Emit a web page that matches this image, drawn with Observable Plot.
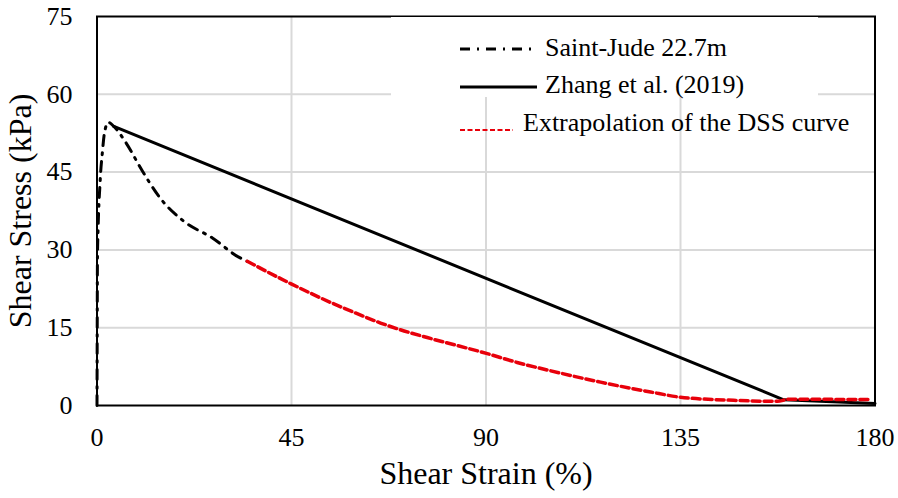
<!DOCTYPE html>
<html>
<head>
<meta charset="utf-8">
<script src="https://cdn.jsdelivr.net/npm/d3@7"></script>
<script src="https://cdn.jsdelivr.net/npm/@observablehq/plot@0.6"></script>
<style>
  html, body { margin: 0; padding: 0; background: #fff; }
  #wrap { position: relative; width: 898px; height: 498px; font-family: 'Liberation Serif', 'DejaVu Serif', serif; }
  #legend { position: absolute; left: 391px; top: 17px; width: 427px; height: 80px; background: #fff; }
  .item { position: absolute; font-family: 'Liberation Serif', 'DejaVu Serif', serif; font-size: 26px; color: #000; white-space: nowrap; line-height: 1; }
  svg text { font-family: 'Liberation Serif', 'DejaVu Serif', serif; }
</style>
</head>
<body>
<div id="wrap"></div>
<script>
// ---- data ----
const saintJudeX = [0, 0.05, 0.1, 0.25, 0.45, 0.65, 0.85, 1.2, 1.7, 2.6, 3.9, 6.75, 10.5, 14.7, 20.1, 26.7, 32.8, 34.75];
const saintJudeY = [0, 15, 28, 34, 39, 42, 45, 48.4, 52.4, 54.6, 53.8, 50.6, 45.2, 39.9, 35.5, 32.3, 28.6, 27.8];

const zhangX = [3.9, 158.9, 180];
const zhangY = [53.8, 1.1, 0.4];

const extrapX = [34.75, 44.8, 55.6, 60.2, 65.6, 70.2, 76.4, 90.3, 97.2, 104.9, 116.5, 128.1, 135.0, 147.3, 157.4, 160, 179];
const extrapY = [27.8, 23.5, 19.3, 17.7, 15.9, 14.6, 13.1, 10.0, 8.3, 6.7, 4.5, 2.6, 1.6, 1.0, 0.8, 1.2, 1.15];

const xTicks = [0, 45, 90, 135, 180];
const yTicks = [0, 15, 30, 45, 60, 75];

const seriesNames = ["Saint-Jude 22.7m", "Zhang et al. (2019)", "Extrapolation of the DSS curve"];
const xLabel = "Shear Strain (%)";
const yLabel = "Shear Stress (kPa)";

const toRows = (xs, ys) => xs.map((x, i) => ({x, y: ys[i]}));
const sj = toRows(saintJudeX, saintJudeY);
const zh = toRows(zhangX, zhangY);
const ex = toRows(extrapX, extrapY);

const FONT = "'Liberation Serif', 'DejaVu Serif', serif";
const RED = "#e8000b";
const DASHDOT = "10,7,2,7";

const chart = Plot.plot({
  width: 898,
  height: 498,
  marginLeft: 96.5,
  marginRight: 23.5,
  marginTop: 16,
  marginBottom: 93,
  style: {fontFamily: FONT, fontSize: "26px", background: "#fff", color: "#000"},
  x: {domain: [0, 180]},
  y: {domain: [0, 75]},
  marks: [
    Plot.gridX(xTicks.slice(1, -1), {stroke: "#d9d9d9", strokeOpacity: 1, strokeWidth: 2}),
    Plot.gridY(yTicks.slice(1, -1), {stroke: "#d9d9d9", strokeOpacity: 1, strokeWidth: 2}),
    Plot.axisX(xTicks, {tickSize: 0, tickPadding: 22, label: null, fontSize: 26, fontFamily: FONT, fontVariant: "normal"}),
    Plot.axisY(yTicks, {tickSize: 0, tickPadding: 24.5, label: null, fontSize: 26, fontFamily: FONT, fontVariant: "normal"}),
    Plot.text([xLabel], {frameAnchor: "bottom", dy: 68, fontSize: 32, fontFamily: FONT, textAnchor: "middle", lineAnchor: "middle", text: d => d}),
    Plot.text([yLabel], {frameAnchor: "left", dx: -76, rotate: -90, fontSize: 32, fontFamily: FONT, textAnchor: "middle", lineAnchor: "middle", text: d => d}),
    Plot.line(zh, {x: "x", y: "y", stroke: "#000", strokeWidth: 3}),
    Plot.line(sj, {x: "x", y: "y", stroke: "#000", strokeWidth: 3, strokeDasharray: DASHDOT, curve: "monotone-x"}),
    Plot.line(ex, {x: "x", y: "y", stroke: RED, strokeWidth: 3.5, strokeDasharray: "8,4", curve: "monotone-x"}),
    Plot.frame({stroke: "#000", strokeWidth: 2})
  ]
});

const wrap = document.getElementById("wrap");
wrap.appendChild(chart);

// ---- legend (overlay inside the plot area) ----
const legend = document.createElement("div");
legend.id = "legend";
wrap.appendChild(legend);

const items = [
  {name: seriesNames[0], lx: 460, lw: 77, ly: 49, stroke: "#000", sw: 3, dash: DASHDOT, tx: 545, base: 58},
  {name: seriesNames[1], lx: 460, lw: 77, ly: 87, stroke: "#000", sw: 3, dash: null, tx: 545, base: 95},
  {name: seriesNames[2], lx: 460, lw: 53, ly: 130, stroke: RED, sw: 2, dash: "5,2.5", tx: 523, base: 133}
];
for (const it of items) {
  const s = document.createElementNS("http://www.w3.org/2000/svg", "svg");
  s.setAttribute("width", it.lw);
  s.setAttribute("height", 8);
  s.style.position = "absolute";
  s.style.left = it.lx + "px";
  s.style.top = (it.ly - 4) + "px";
  const l = document.createElementNS("http://www.w3.org/2000/svg", "line");
  l.setAttribute("x1", 0); l.setAttribute("x2", it.lw);
  l.setAttribute("y1", 4); l.setAttribute("y2", 4);
  l.setAttribute("stroke", it.stroke);
  l.setAttribute("stroke-width", it.sw);
  if (it.dash) l.setAttribute("stroke-dasharray", it.dash);
  s.appendChild(l);
  wrap.appendChild(s);
  const t = document.createElement("div");
  t.className = "item";
  t.textContent = it.name;
  t.style.left = it.tx + "px";
  t.style.top = (it.base - 23) + "px";
  wrap.appendChild(t);
}
</script>
</body>
</html>
